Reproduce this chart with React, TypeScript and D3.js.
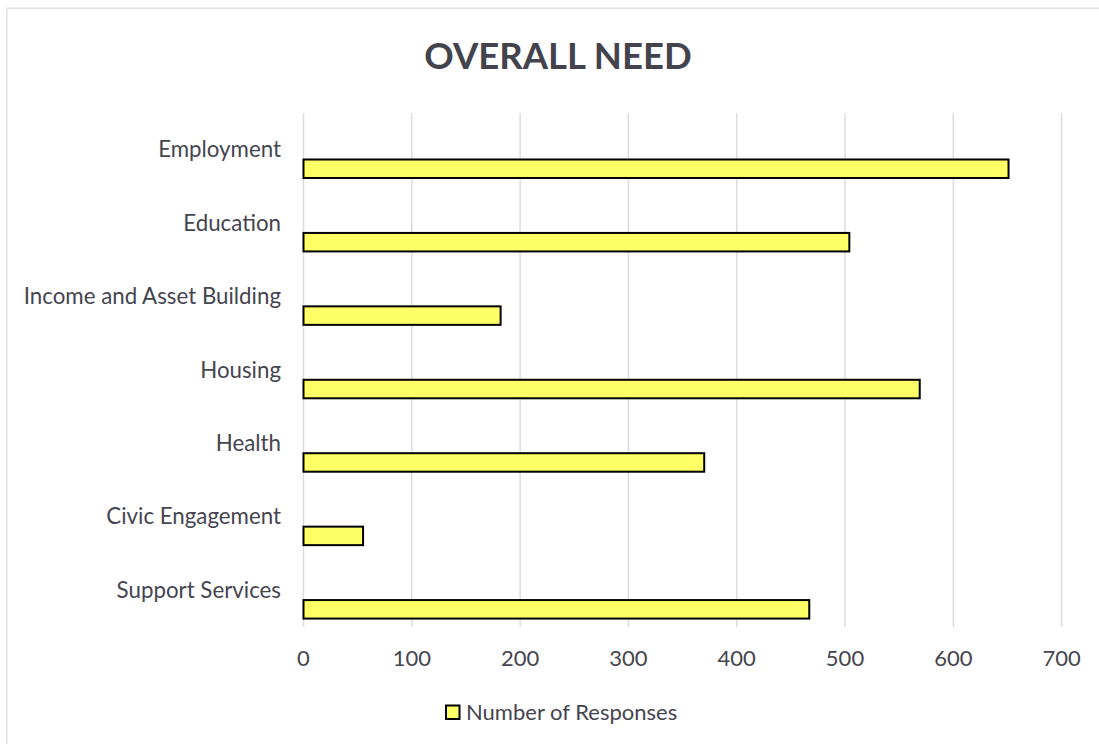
import React from "react";
import * as d3 from "d3";

const categories = [
  "Employment",
  "Education",
  "Income and Asset Building",
  "Housing",
  "Health",
  "Civic Engagement",
  "Support Services",
];
const responses = [651, 504, 182, 569, 370, 55, 467];
const xTicks = [0, 100, 200, 300, 400, 500, 600, 700];
const seriesName = "Number of Responses";
const title = "OVERALL NEED";

const W = 1099;
const H = 744;
const textColor = "#45454f";
const font = "Lato, 'Open Sans', sans-serif";

export default function App() {
  const x = d3.scaleLinear().domain([0, 700]).range([303.5, 1061.6]);
  const y = d3.scaleBand<string>().domain(categories).range([113, 627]).padding(0);
  const bw = y.bandwidth();

  return (
    <svg
      width={W}
      height={H}
      style={{ position: "absolute", left: 0, top: 0, background: "#fff" }}
      fontFamily={font}
    >
      <rect x={6.75} y={8.25} width={1100} height={760} fill="#fff" stroke="#e2e2e8" strokeWidth={1.5} />
      <text x={558} y={69} textAnchor="middle" fontSize={36.5} fontWeight={700} fill="#43434d">
        {title}
      </text>
      {xTicks.map((t) => (
        <g key={t}>
          <line x1={x(t)} x2={x(t)} y1={113} y2={627} stroke="#dcdce0" strokeWidth={1.5} />
          <text x={x(t)} y={666} textAnchor="middle" fontSize={22} fill={textColor}>
            {t}
          </text>
        </g>
      ))}
      {categories.map((c, i) => (
        <g key={c}>
          <text x={281} y={(y(c) as number) + bw / 2 + 7.5} textAnchor="end" fontSize={22.3} fill={textColor}>
            {c}
          </text>
          <rect
            x={x(0)}
            y={(y(c) as number) + 46.5}
            width={x(responses[i]) - x(0)}
            height={18.5}
            fill="#ffff66"
            stroke="#000"
            strokeWidth={2}
          />
        </g>
      ))}
      <rect x={446} y={705.5} width={13.5} height={13.5} fill="#ffff66" stroke="#000" strokeWidth={2} />
      <text x={466} y={720} fontSize={22} fill={textColor}>
        {seriesName}
      </text>
    </svg>
  );
}
